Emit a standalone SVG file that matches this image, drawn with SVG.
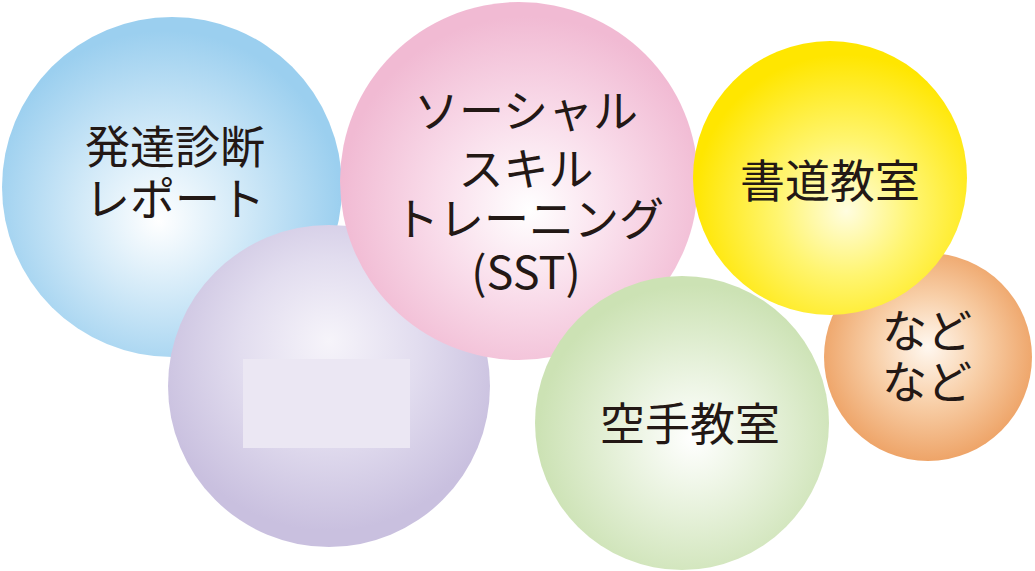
<svg xmlns="http://www.w3.org/2000/svg" width="1035" height="571" viewBox="0 0 1035 571">
<style>
.t{font-family:"Noto Sans CJK JP","Noto Sans",sans-serif;font-size:45px;fill:#231815;text-anchor:middle;dominant-baseline:central;}
</style>
<defs>
<radialGradient id="gBlue" cx="0.48" cy="0.56" r="0.52" fx="0.46" fy="0.6"><stop offset="0" stop-color="#ffffff"/><stop offset="0.45" stop-color="#d3eaf8"/><stop offset="1" stop-color="#9bcfef"/></radialGradient>
<radialGradient id="gPurple" cx="0.5" cy="0.4" r="0.55" fx="0.5" fy="0.36"><stop offset="0" stop-color="#f6f4fa"/><stop offset="0.5" stop-color="#e2ddef"/><stop offset="1" stop-color="#c9c0df"/></radialGradient>
<radialGradient id="gPink" cx="0.52" cy="0.56" r="0.52" fx="0.53" fy="0.58"><stop offset="0" stop-color="#ffffff"/><stop offset="0.5" stop-color="#f9dcea"/><stop offset="1" stop-color="#f1bad3"/></radialGradient>
<radialGradient id="gGreen" cx="0.53" cy="0.55" r="0.52" fx="0.54" fy="0.55"><stop offset="0" stop-color="#ffffff"/><stop offset="0.5" stop-color="#e6f1da"/><stop offset="1" stop-color="#cce2b4"/></radialGradient>
<radialGradient id="gYellow" cx="0.55" cy="0.6" r="0.55" fx="0.56" fy="0.62"><stop offset="0" stop-color="#fffde0"/><stop offset="0.45" stop-color="#fff570"/><stop offset="1" stop-color="#ffe600"/></radialGradient>
<radialGradient id="gOrange" cx="0.5" cy="0.48" r="0.52" fx="0.5" fy="0.45"><stop offset="0" stop-color="#fff8f0"/><stop offset="0.5" stop-color="#f8cfa8"/><stop offset="1" stop-color="#eea468"/></radialGradient>
</defs>
<rect width="1035" height="571" fill="#ffffff"/>
<g id="node-hattatsu">
<circle cx="172" cy="187" r="170" fill="url(#gBlue)"/>
<text class="t" x="175" y="144">発達診断</text>
<text class="t" x="175" y="196">レポート</text>
</g>
<g id="node-purple">
<circle cx="329" cy="386" r="161" fill="url(#gPurple)"/>
<rect x="243" y="359" width="167" height="89" fill="#ebe7f3"/>
</g>
<g id="node-sst">
<circle cx="519" cy="181" r="179" fill="url(#gPink)"/>
<text class="t" x="526" y="108">ソーシャル</text>
<text class="t" x="526" y="166">スキル</text>
<text class="t" x="529" y="216">トレーニング</text>
<text class="t" x="526" y="269">(SST)</text>
</g>
<g id="node-karate">
<circle cx="682" cy="423" r="147" fill="url(#gGreen)"/>
<text class="t" x="690" y="421">空手教室</text>
</g>
<g id="node-nado">
<circle cx="928" cy="357" r="104" fill="url(#gOrange)"/>
<text class="t" x="927" y="328">など</text>
<text class="t" x="927" y="379">など</text>
</g>
<g id="node-shodo">
<circle cx="830" cy="178" r="137" fill="url(#gYellow)"/>
<text class="t" x="830" y="178">書道教室</text>
</g>
<g id="connectors"></g>
</svg>
